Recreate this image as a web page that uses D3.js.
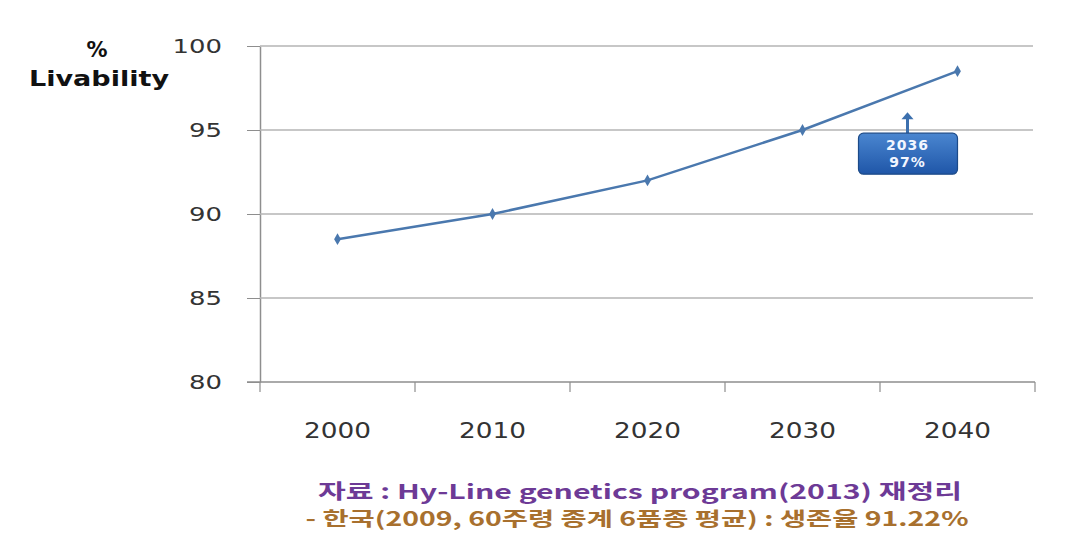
<!DOCTYPE html>
<html>
<head>
<meta charset="utf-8">
<script src="https://cdn.jsdelivr.net/npm/d3@7"></script>
<style>
  body { margin: 0; background: #fff; }
  svg { display: block; }
</style>
</head>
<body>
<div id="chart"></div>
<script>
// data
const years = ['2000', '2010', '2020', '2030', '2040'];
const livability = [88.5, 90, 92, 95, 98.5];
const yTicks = [80, 85, 90, 95, 100];
const callout = { year: 2036, label: '2036', value: '97%', at: 96 };
const noteLines = [
  '자료 : Hy-Line genetics program(2013)  재정리',
  '- 한국(2009, 60주령 종계 6품종 평균) :  생존율 91.22%'
];

const W = 1077, H = 543;
const margin = { left: 260, right: 42, top: 46, bottom: 161 };

const svg = d3.select('#chart').append('svg')
  .attr('width', W).attr('height', H);

const x = d3.scaleBand().domain(years)
  .range([margin.left, W - margin.right]);
const xYear = d3.scaleLinear().domain([1995, 2045])
  .range([margin.left, W - margin.right]);
const y = d3.scaleLinear().domain([80, 100])
  .range([H - margin.bottom, margin.top]);

const gridColor = '#b4b4b4';
const axisColor = '#8e8e8e';
const lineColor = '#4a78ae';

// gridlines + y axis
const yAxis = svg.append('g')
  .attr('transform', `translate(${margin.left},0)`)
  .call(d3.axisLeft(y).tickValues(yTicks).tickSize(13).tickSizeOuter(0).tickPadding(25));
yAxis.select('.domain').attr('stroke', axisColor).attr('stroke-width', 1.5);
yAxis.selectAll('.tick line').attr('stroke', axisColor);
yAxis.selectAll('.tick text')
  .attr('font-family', 'DejaVu Sans').attr('font-size', 20)
  .attr('textLength', d => String(d).length * 16.5)
  .attr('lengthAdjust', 'spacingAndGlyphs')
  .attr('fill', '#333');

svg.append('g').selectAll('line')
  .data(yTicks.filter(d => d > 80))
  .join('line')
  .attr('x1', margin.left).attr('x2', W - margin.right - 2)
  .attr('y1', d => y(d)).attr('y2', d => y(d))
  .attr('stroke', gridColor).attr('stroke-width', 1.5);

// x axis
const xAxis = svg.append('g')
  .attr('transform', `translate(0,${y(80)})`)
  .call(d3.axisBottom(x).tickSize(0).tickPadding(40));
xAxis.select('.domain').remove();
xAxis.append('line')
  .attr('x1', margin.left - 13).attr('x2', W - margin.right)
  .attr('stroke', axisColor).attr('stroke-width', 1.5);
xAxis.selectAll('.sep')
  .data(years.concat(['end']))
  .join('line')
  .attr('class', 'sep')
  .attr('x1', (d, i) => margin.left + i * x.step())
  .attr('x2', (d, i) => margin.left + i * x.step())
  .attr('y1', 0).attr('y2', 10)
  .attr('stroke', axisColor).attr('stroke-width', 1.2);
xAxis.selectAll('.tick text')
  .attr('font-family', 'DejaVu Sans').attr('font-size', 22)
  .attr('textLength', 67).attr('lengthAdjust', 'spacingAndGlyphs')
  .attr('fill', '#333');

// y title
svg.append('text')
  .attr('x', 97).attr('y', 57)
  .attr('text-anchor', 'middle')
  .attr('font-family', 'DejaVu Sans').attr('font-weight', 'bold')
  .attr('font-size', 21).attr('fill', '#111')
  .text('%');
svg.append('text')
  .attr('x', 99).attr('y', 86)
  .attr('text-anchor', 'middle')
  .attr('font-family', 'DejaVu Sans').attr('font-weight', 'bold')
  .attr('font-size', 21)
  .attr('textLength', 140).attr('lengthAdjust', 'spacingAndGlyphs')
  .attr('fill', '#111')
  .text('Livability');

// series line
const pts = years.map((d, i) => [x(d) + x.bandwidth() / 2, y(livability[i])]);
svg.append('path')
  .datum(pts)
  .attr('d', d3.line())
  .attr('fill', 'none')
  .attr('stroke', lineColor).attr('stroke-width', 2.5);
svg.append('g').selectAll('path')
  .data(pts)
  .join('path')
  .attr('transform', d => `translate(${d[0]},${d[1]})`)
  .attr('d', d3.symbol(d3.symbolDiamond, 40))
  .attr('fill', lineColor);

// callout 2036
const defs = svg.append('defs');
const grad = defs.append('linearGradient').attr('id', 'boxGrad')
  .attr('x1', 0).attr('x2', 0).attr('y1', 0).attr('y2', 1);
grad.append('stop').attr('offset', 0).attr('stop-color', '#4a86d0');
grad.append('stop').attr('offset', 1).attr('stop-color', '#1f56a8');

const cx = xYear(callout.year) + 12;
const tipY = y(callout.at) - 1;
const boxTop = tipY + 21;
svg.append('line')
  .attr('x1', cx).attr('x2', cx)
  .attr('y1', boxTop).attr('y2', tipY + 5)
  .attr('stroke', '#3c70ae').attr('stroke-width', 3);
svg.append('path')
  .attr('d', `M${cx - 6},${tipY + 7}L${cx},${tipY}L${cx + 6},${tipY + 7}Z`)
  .attr('fill', '#3c70ae');
svg.append('rect')
  .attr('x', cx - 49).attr('y', boxTop)
  .attr('width', 99).attr('height', 41).attr('rx', 5)
  .attr('fill', 'url(#boxGrad)')
  .attr('stroke', '#1c4a88').attr('stroke-width', 1.2);
svg.append('text')
  .attr('x', cx).attr('y', boxTop + 17)
  .attr('text-anchor', 'middle')
  .attr('font-family', 'DejaVu Sans').attr('font-weight', 'bold')
  .attr('font-size', 14).attr('letter-spacing', 1).attr('fill', '#f2f6ff')
  .text(callout.label);
svg.append('text')
  .attr('x', cx).attr('y', boxTop + 34)
  .attr('text-anchor', 'middle')
  .attr('font-family', 'DejaVu Sans').attr('font-weight', 'bold')
  .attr('font-size', 14).attr('letter-spacing', 1).attr('fill', '#f2f6ff')
  .text(callout.value);

// source notes
svg.append('text')
  .attr('x', 640).attr('y', 499)
  .attr('text-anchor', 'middle')
  .attr('font-family', 'Noto Sans CJK KR').attr('font-weight', 'bold')
  .attr('font-size', 20)
  .attr('textLength', 644).attr('lengthAdjust', 'spacingAndGlyphs')
  .attr('fill', '#6d3a96')
  .text(noteLines[0]);
svg.append('text')
  .attr('x', 637).attr('y', 526)
  .attr('text-anchor', 'middle')
  .attr('font-family', 'Noto Sans CJK KR').attr('font-weight', 'bold')
  .attr('font-size', 19.5)
  .attr('textLength', 663).attr('lengthAdjust', 'spacingAndGlyphs')
  .attr('fill', '#a8702e')
  .text(noteLines[1]);
</script>
</body>
</html>
